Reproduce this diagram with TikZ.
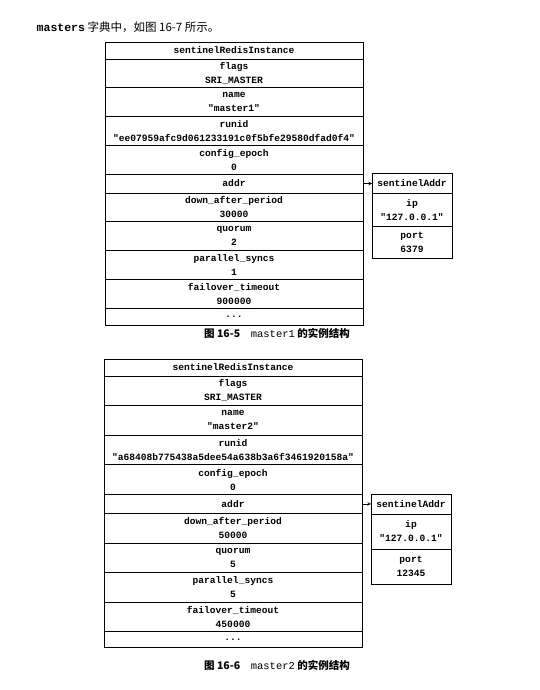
\documentclass[tikz,border=0pt]{standalone}
\usepackage{fontspec}
\setmainfont{Noto Sans CJK SC}
\setmonofont{Liberation Mono}
\usetikzlibrary{arrows,positioning}

\begin{document}
\begin{tikzpicture}[x=1pt, y=-1pt, node distance=0pt, >=stealth, line width=0.8pt]
  \tikzstyle{field} = [rectangle, draw, outer sep=0pt, inner sep=0pt, minimum width=258pt, minimum height=28.75pt, align=center, font=\fontsize{9.6}{14}\selectfont\ttfamily\bfseries]
  \tikzstyle{slim} = [field, minimum height=17pt]
  \tikzstyle{subfield} = [field, minimum width=80pt, minimum height=32.5pt]
  \tikzstyle{figcap} = [font=\fontsize{10.5}{12}\selectfont\bfseries]

  \useasboundingbox (0,0) rectangle (539,690);

  \node[anchor=west, font=\fontsize{11.5}{12}\selectfont] (intro) at (33,27) {{\ttfamily\bfseries masters} 字典中，如图 16-7 所示。};

  % master1
  \node[slim, anchor=north west] (m1_hdr) at (105,42) {sentinelRedisInstance};
  \node[field] (m1_flags) [below=of m1_hdr] {flags\\SRI\_MASTER};
  \node[field] (m1_name) [below=of m1_flags] {name\\"master1"};
  \node[field] (m1_runid) [below=of m1_name] {runid\\"ee07959afc9d061233191c0f5bfe29580dfad0f4"};
  \node[field] (m1_epoch) [below=of m1_runid] {config\_epoch\\0};
  \node[slim, minimum height=19pt] (m1_addr) [below=of m1_epoch] {addr};
  \node[field] (m1_down) [below=of m1_addr] {down\_after\_period\\30000};
  \node[field] (m1_quorum) [below=of m1_down] {quorum\\2};
  \node[field] (m1_sync) [below=of m1_quorum] {parallel\_syncs\\1};
  \node[field] (m1_fail) [below=of m1_sync] {failover\_timeout\\900000};
  \node[slim] (m1_more) [below=of m1_fail] {...};

  \node[subfield, minimum height=20pt] (m1_sa) [right=9pt of m1_addr] {sentinelAddr};
  \node[subfield] (m1_ip) [below=of m1_sa] {ip\\"127.0.0.1"};
  \node[subfield] (m1_port) [below=of m1_ip] {port\\6379};

  \draw[->, line width=0.6pt] (m1_addr) -- (m1_sa);

  \node[figcap] (m1_cap) at (277,333) {图 16-5\quad{\mdseries\ttfamily master1} 的实例结构};

  % master2
  \begin{scope}
  \tikzstyle{field} = [rectangle, draw, outer sep=0pt, inner sep=0pt, minimum width=258pt, minimum height=29.6pt, align=center, font=\fontsize{9.6}{14}\selectfont\ttfamily\bfseries]
  \tikzstyle{subfield} = [field, minimum width=80pt, minimum height=35pt]
  \node[slim, anchor=north west] (m2_hdr) at (104,359) {sentinelRedisInstance};
  \node[field] (m2_flags) [below=of m2_hdr] {flags\\SRI\_MASTER};
  \node[field] (m2_name) [below=of m2_flags] {name\\"master2"};
  \node[field] (m2_runid) [below=of m2_name] {runid\\"a68408b775438a5dee54a638b3a6f3461920158a"};
  \node[field] (m2_epoch) [below=of m2_runid] {config\_epoch\\0};
  \node[slim, minimum height=19pt] (m2_addr) [below=of m2_epoch] {addr};
  \node[field] (m2_down) [below=of m2_addr] {down\_after\_period\\50000};
  \node[field] (m2_quorum) [below=of m2_down] {quorum\\5};
  \node[field] (m2_sync) [below=of m2_quorum] {parallel\_syncs\\5};
  \node[field] (m2_fail) [below=of m2_sync] {failover\_timeout\\450000};
  \node[slim, minimum height=16pt] (m2_more) [below=of m2_fail] {...};

  \node[subfield, minimum height=20pt] (m2_sa) [right=9pt of m2_addr] {sentinelAddr};
  \node[subfield] (m2_ip) [below=of m2_sa] {ip\\"127.0.0.1"};
  \node[subfield] (m2_port) [below=of m2_ip] {port\\12345};
  \end{scope}

  \draw[->, line width=0.6pt] (m2_addr) -- (m2_sa);

  \node[figcap] (m2_cap) at (277,665) {图 16-6\quad{\mdseries\ttfamily master2} 的实例结构};
\end{tikzpicture}
\end{document}
